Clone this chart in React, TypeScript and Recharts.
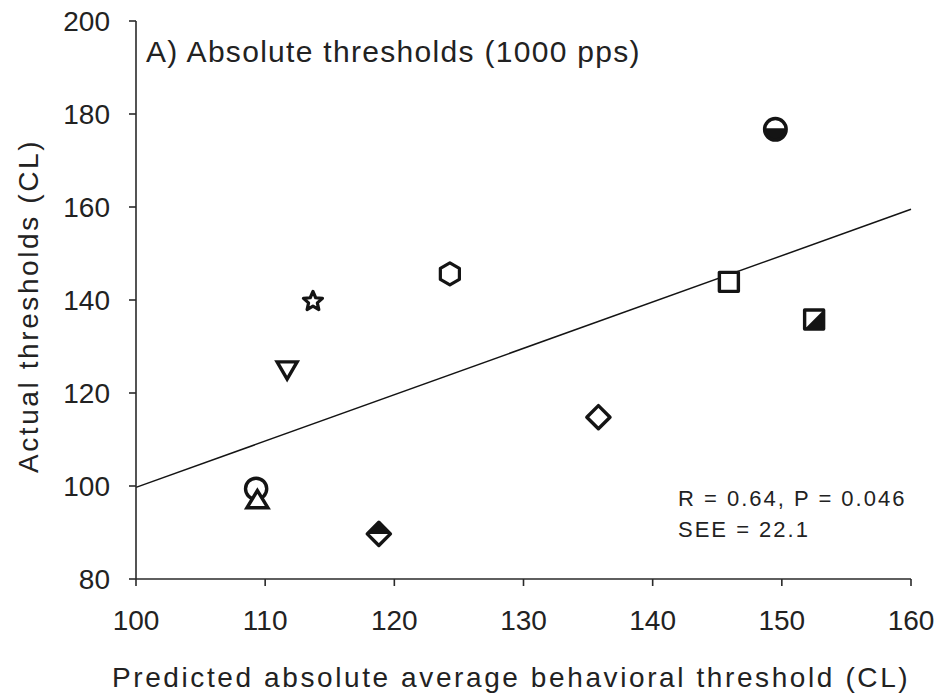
import React from 'react';
import { ScatterChart, Scatter, XAxis, YAxis, ReferenceLine } from 'recharts';

// Subject markers, predicted (x) vs actual (y) thresholds in CL
const markerKinds = [
  'circle',
  'triangle',
  'triangleDown',
  'star',
  'halfDiamond',
  'hexagon',
  'diamond',
  'square',
  'halfCircle',
  'halfSquare',
];
const predicted = [109.3, 109.4, 111.7, 113.7, 118.8, 124.3, 135.8, 145.9, 149.5, 152.5];
const actual = [99.4, 97.2, 124.8, 139.9, 89.7, 145.6, 114.8, 143.9, 176.7, 135.8];

// Regression line end points
const fitX = [100, 160];
const fitY = [99.7, 159.5];

const xTicks = [100, 110, 120, 130, 140, 150, 160];
const yTicks = [80, 100, 120, 140, 160, 180, 200];

const panelTitle = 'A) Absolute thresholds (1000 pps)';
const xTitle = 'Predicted absolute average behavioral threshold (CL)';
const yTitle = 'Actual thresholds (CL)';
const statLines = ['R = 0.64, P = 0.046', 'SEE = 22.1'];

const points = predicted.map((x, i) => ({ x, y: actual[i], kind: markerKinds[i] }));

const FONT = '"Liberation Sans", Arial, Helvetica, sans-serif';
const INK = '#141414';
const TEXT = '#222';
const AXIS = '#2a2a2a';

function Marker(props: any) {
  const { cx, cy, payload } = props;
  if (cx == null || cy == null || !payload) return null;
  const sw = 3.4;
  switch (payload.kind) {
    case 'circle':
      return <circle cx={cx} cy={cy} r={10.6} fill="#fff" stroke={INK} strokeWidth={sw} />;
    case 'halfCircle': {
      const r = 10.8;
      return (
        <g>
          <circle cx={cx} cy={cy} r={r} fill="#fff" />
          <path d={`M ${cx - r} ${cy - 1} A ${r} ${r} 0 0 0 ${cx + r} ${cy - 1} Z`} fill={INK} />
          <circle cx={cx} cy={cy} r={r} fill="none" stroke={INK} strokeWidth={sw} />
        </g>
      );
    }
    case 'triangle': {
      const d = `M ${cx} ${cy - 8.5} L ${cx + 10.5} ${cy + 8.8} L ${cx - 10.5} ${cy + 8.8} Z`;
      return <path d={d} fill="#fff" stroke={INK} strokeWidth={sw} strokeLinejoin="miter" />;
    }
    case 'triangleDown': {
      const d = `M ${cx - 10} ${cy - 8.8} L ${cx + 10} ${cy - 8.8} L ${cx} ${cy + 8.5} Z`;
      return <path d={d} fill="#fff" stroke={INK} strokeWidth={sw} strokeLinejoin="miter" />;
    }
    case 'star': {
      const R = 10;
      const rIn = 4.6;
      const pts: string[] = [];
      for (let i = 0; i < 10; i++) {
        const a = -Math.PI / 2 + (i * Math.PI) / 5;
        const rr = i % 2 === 0 ? R : rIn;
        pts.push(`${cx + rr * Math.cos(a)},${cy + 1 + rr * Math.sin(a)}`);
      }
      return <polygon points={pts.join(' ')} fill="#fff" stroke={INK} strokeWidth={3.2} strokeLinejoin="round" />;
    }
    case 'hexagon': {
      const R = 11;
      const pts: string[] = [];
      for (let i = 0; i < 6; i++) {
        const a = -Math.PI / 2 + (i * Math.PI) / 3;
        pts.push(`${cx + R * Math.cos(a)},${cy + R * Math.sin(a)}`);
      }
      return <polygon points={pts.join(' ')} fill="#fff" stroke={INK} strokeWidth={3.2} strokeLinejoin="round" />;
    }
    case 'diamond': {
      const h = 11.6;
      const d = `M ${cx} ${cy - h} L ${cx + h} ${cy} L ${cx} ${cy + h} L ${cx - h} ${cy} Z`;
      return <path d={d} fill="#fff" stroke={INK} strokeWidth={sw} strokeLinejoin="round" />;
    }
    case 'halfDiamond': {
      const h = 11.6;
      const d = `M ${cx} ${cy - h} L ${cx + h} ${cy} L ${cx} ${cy + h} L ${cx - h} ${cy} Z`;
      return (
        <g>
          <path d={d} fill="#fff" />
          <path d={`M ${cx - h} ${cy} L ${cx} ${cy - h} L ${cx + h} ${cy} Z`} fill={INK} />
          <path d={d} fill="none" stroke={INK} strokeWidth={sw} strokeLinejoin="round" />
        </g>
      );
    }
    case 'square': {
      const s = 9.5;
      return (
        <rect x={cx - s} y={cy - s} width={2 * s} height={2 * s} fill="#fff" stroke={INK} strokeWidth={sw} strokeLinejoin="round" />
      );
    }
    case 'halfSquare': {
      const s = 9.5;
      return (
        <g>
          <rect x={cx - s} y={cy - s} width={2 * s} height={2 * s} fill="#fff" />
          <path d={`M ${cx + s} ${cy - s} L ${cx + s} ${cy + s} L ${cx - s} ${cy + s} Z`} fill={INK} />
          <rect x={cx - s} y={cy - s} width={2 * s} height={2 * s} fill="none" stroke={INK} strokeWidth={sw} strokeLinejoin="round" />
        </g>
      );
    }
    default:
      return null;
  }
}

const tickStyle = { fill: TEXT, fontSize: 28, fontFamily: FONT };

export default function App() {
  return (
    <div style={{ width: 942, height: 698, background: '#fff', fontFamily: FONT }}>
      <style>{'body{margin:0;background:#fff;}'}</style>
      <ScatterChart width={942} height={698} margin={{ top: 21, right: 31, bottom: 0, left: 0 }}>
        <XAxis
          type="number"
          dataKey="x"
          domain={[100, 160]}
          ticks={xTicks}
          height={119}
          tickSize={7}
          tickMargin={24}
          axisLine={{ stroke: AXIS, strokeWidth: 1.6 }}
          tickLine={{ stroke: AXIS, strokeWidth: 1.6 }}
          tick={tickStyle}
          allowDataOverflow
        />
        <YAxis
          type="number"
          dataKey="y"
          domain={[80, 200]}
          ticks={yTicks}
          width={136}
          tickSize={7}
          tickMargin={19}
          axisLine={{ stroke: AXIS, strokeWidth: 1.6 }}
          tickLine={{ stroke: AXIS, strokeWidth: 1.6 }}
          tick={tickStyle}
          allowDataOverflow
        />
        <ReferenceLine
          segment={[
            { x: fitX[0], y: fitY[0] },
            { x: fitX[1], y: fitY[1] },
          ]}
          stroke={INK}
          strokeWidth={1.5}
          ifOverflow="visible"
        />
        <Scatter data={points} isAnimationActive={false} shape={(p: any) => <Marker {...p} />} />
        <text x={146} y={62} fontSize={30} letterSpacing={1.3} fill={TEXT} fontFamily={FONT}>
          {panelTitle}
        </text>
        <text x={112} y={687} fontSize={28} letterSpacing={2.6} fill={TEXT} fontFamily={FONT}>
          {xTitle}
        </text>
        <text
          x={38}
          y={306}
          fontSize={28}
          letterSpacing={2.6}
          fill={TEXT}
          fontFamily={FONT}
          textAnchor="middle"
          transform="rotate(-90 38 306)"
        >
          {yTitle}
        </text>
        {statLines.map((s, i) => (
          <text key={s} x={678} y={506 + i * 31} fontSize={22} letterSpacing={2} fill={TEXT} fontFamily={FONT}>
            {s}
          </text>
        ))}
      </ScatterChart>
    </div>
  );
}
